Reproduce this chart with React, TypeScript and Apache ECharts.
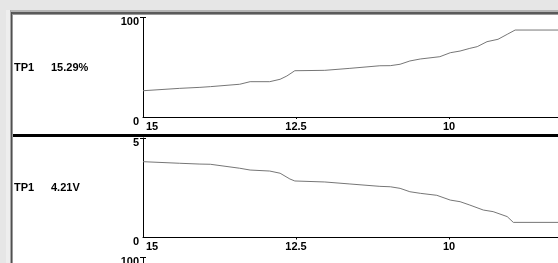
import React, { useEffect, useRef } from "react";
import * as echarts from "echarts";

// Panel 1: percentage trace (x = distance, y = %)
const percentSeries: [number, number][] = [
  [15, 26.4], [14.4, 28.8], [14.07, 29.8], [13.9, 30.5], [13.42, 32.9], [13.25, 35.5],
  [12.93, 35.5], [12.76, 37.9], [12.65, 41.2], [12.52, 46.5], [12.03, 46.9], [11.62, 48.9],
  [11.13, 51.5], [10.96, 51.6], [10.8, 53.0], [10.64, 56.3], [10.47, 58.3], [10.15, 60.6],
  [9.98, 64.6], [9.82, 66.3], [9.66, 69.0], [9.54, 70.7], [9.38, 75.7], [9.2, 78.1],
  [9.05, 83.1], [8.92, 87.4], [8.22, 87.4],
];

// Panel 2: voltage trace
const voltSeries: [number, number][] = [
  [15, 3.81], [14.4, 3.73], [14.07, 3.69], [13.9, 3.68], [13.42, 3.48], [13.25, 3.39],
  [12.93, 3.34], [12.76, 3.23], [12.6, 2.94], [12.52, 2.84], [12.03, 2.79], [11.62, 2.69],
  [11.13, 2.57], [10.96, 2.55], [10.8, 2.47], [10.64, 2.3], [10.47, 2.22], [10.2, 2.12],
  [9.98, 1.88], [9.82, 1.8], [9.66, 1.63], [9.44, 1.38], [9.28, 1.3], [9.05, 1.05],
  [8.95, 0.76], [8.22, 0.76],
];

const xTickLabels = [15, 12.5, 10];
const xMinorTicks = [12.5, 10];
const xRange = { min: 8.22, max: 15 };
const panelMax = [100, 5, 100];
const panelNames = ["TP1", "TP1"];
const panelReadouts = ["15.29%", "4.21V"];

const FONT = "Liberation Sans, Arial, sans-serif";

export default function App() {
  const ref = useRef<HTMLDivElement>(null);
  useEffect(() => {
    if (!ref.current) return;
    const chart = echarts.init(ref.current, null, { renderer: "svg" });
    const gridTops = [17.5, 138, 257.5];
    const grids = gridTops.map((t) => ({ left: 143, right: 0, top: t, height: 99.5 }));

    const labelStyle = { color: "#000", fontSize: 11, fontWeight: "bold" as const, fontFamily: FONT };

    const xAxes = gridTops.map((_, i) => ({
      type: "value" as const,
      gridIndex: i,
      show: i < 2,
      min: xRange.min,
      max: xRange.max,
      inverse: true,
      axisLine: { show: true, lineStyle: { color: "#000", width: 1 } },
      axisTick: { show: true, customValues: xMinorTicks, length: 2, lineStyle: { color: "#000" } },
      splitLine: { show: false },
      axisLabel: {
        ...labelStyle,
        customValues: xTickLabels,
        margin: 3,
        formatter: (v: number) => (v === 15 ? "{p|15}" : String(v)),
        rich: { p: { ...labelStyle, padding: [0, 0, 0, 18] } },
      },
    }));

    const yAxes: any[] = [];
    gridTops.forEach((_, i) => {
      const mx = panelMax[i];
      yAxes.push({
        type: "value",
        gridIndex: i,
        min: 0,
        max: mx,
        interval: mx,
        position: "left",
        axisLine: { show: true, lineStyle: { color: "#000", width: 1 } },
        axisTick: { show: true, customValues: [mx], length: 3, lineStyle: { color: "#000" } },
        splitLine: { show: false },
        axisLabel: {
          ...labelStyle,
          margin: 4,
          verticalAlign: "top",
          lineHeight: 7,
          showMinLabel: i < 2,
        },
      });
      yAxes.push({
        type: "value",
        gridIndex: i,
        min: 0,
        max: mx,
        interval: mx,
        position: "left",
        offset: 0,
        axisLine: { show: false },
        axisTick: { show: true, inside: true, customValues: [mx], length: 3, lineStyle: { color: "#000" } },
        splitLine: { show: false },
        axisLabel: { show: false },
      });
    });

    const lineSeries = (data: [number, number][], gi: number) => ({
      type: "line" as const,
      xAxisIndex: gi,
      yAxisIndex: gi * 2,
      data,
      symbol: "none",
      lineStyle: { color: "#767676", width: 1 },
      silent: true,
    });

    const graphics: any[] = [
      { type: "rect", z: -10, shape: { x: 0, y: 0, width: 558, height: 263 }, style: { fill: "#e6e6e6" } },
      { type: "rect", z: -9, shape: { x: 6, y: 10, width: 4, height: 253 }, style: { fill: "#eeeeee" } },
      { type: "rect", z: -9, shape: { x: 10, y: 10, width: 548, height: 253 }, style: { fill: "#ffffff" } },
      { type: "rect", z: -8, shape: { x: 10, y: 10, width: 548, height: 2 }, style: { fill: "#b4b4b4" } },
      { type: "rect", z: -8, shape: { x: 11, y: 12, width: 547, height: 2 }, style: { fill: "#5a5a5a" } },
      { type: "rect", z: -8, shape: { x: 12, y: 14, width: 546, height: 1 }, style: { fill: "#9a9a9a" } },
      { type: "rect", z: -8, shape: { x: 10, y: 10, width: 1, height: 253 }, style: { fill: "#a8a8a8" } },
      { type: "rect", z: -8, shape: { x: 11, y: 12, width: 1, height: 251 }, style: { fill: "#505050" } },
      { type: "rect", z: -8, shape: { x: 12, y: 14, width: 1, height: 249 }, style: { fill: "#9a9a9a" } },
      { type: "rect", z: -1, shape: { x: 13, y: 134, width: 545, height: 3 }, style: { fill: "#000" } },
    ];
    const textYs = [66.5, 186.5];
    panelNames.forEach((n, i) => {
      graphics.push({
        type: "text", x: 14, y: textYs[i],
        style: { text: n, fill: "#000", font: `bold 11px ${FONT}`, verticalAlign: "middle" },
      });
      graphics.push({
        type: "text", x: 51, y: textYs[i],
        style: { text: panelReadouts[i], fill: "#000", font: `bold 11px ${FONT}`, verticalAlign: "middle" },
      });
    });

    chart.setOption({
      animation: false,
      grid: grids,
      xAxis: xAxes,
      yAxis: yAxes,
      series: [lineSeries(percentSeries, 0), lineSeries(voltSeries, 1)],
      graphic: graphics,
    });
    return () => chart.dispose();
  }, []);
  return (
    <div
      ref={ref}
      style={{ position: "fixed", left: 0, top: 0, width: 558, height: 263 }}
    />
  );
}
